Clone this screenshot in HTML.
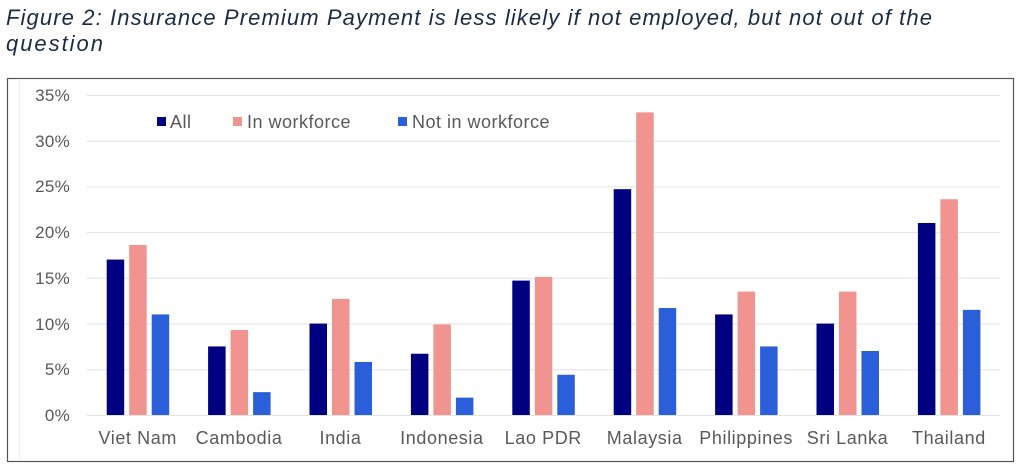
<!DOCTYPE html>
<html><head><meta charset="utf-8"><style>
body{margin:0;background:#fff;width:1024px;height:469px;overflow:hidden}
svg{display:block}
</style></head><body>
<svg width="1024" height="469" xmlns="http://www.w3.org/2000/svg" font-family="Liberation Sans, sans-serif">
<text x="6" y="25" font-size="22" font-style="italic" fill="#1c2b45" textLength="926" lengthAdjust="spacing">Figure 2: Insurance Premium Payment is less likely if not employed, but not out of the</text>
<text x="6" y="51" font-size="22" font-style="italic" fill="#1c2b45" textLength="97" lengthAdjust="spacing">question</text>
<rect x="7.5" y="78.5" width="1006" height="383" fill="#fff" stroke="#555" stroke-width="1.2"/>
<line x1="19.5" y1="80" x2="19.5" y2="460" stroke="#eee"/>
<g stroke="#e3e3e3" stroke-width="1">
<line x1="87" y1="95.5" x2="1000" y2="95.5"/>
<line x1="87" y1="141.2" x2="1000" y2="141.2"/>
<line x1="87" y1="186.9" x2="1000" y2="186.9"/>
<line x1="87" y1="232.6" x2="1000" y2="232.6"/>
<line x1="87" y1="278.3" x2="1000" y2="278.3"/>
<line x1="87" y1="324" x2="1000" y2="324"/>
<line x1="87" y1="369.7" x2="1000" y2="369.7"/>
<line x1="87" y1="415.5" x2="1000" y2="415.5"/>
</g>
<g font-size="17" fill="#595959" text-anchor="end" letter-spacing="0.3">
<text x="70" y="101">35%</text><text x="70" y="147">30%</text><text x="70" y="192">25%</text>
<text x="70" y="238">20%</text><text x="70" y="284">15%</text><text x="70" y="330">10%</text>
<text x="70" y="375">5%</text><text x="70" y="421">0%</text>
</g>
<g font-size="18" fill="#595959" letter-spacing="0.5">
<rect x="157" y="117" width="9" height="9" fill="#000080"/><text x="170" y="128">All</text>
<rect x="233" y="117" width="9" height="9" fill="#f1948f"/><text x="247" y="128">In workforce</text>
<rect x="398" y="117" width="9" height="9" fill="#2b5fd9"/><text x="412" y="128">Not in workforce</text>
</g>
<g id="bars"></g>
<g id="labels" font-size="18" fill="#595959" text-anchor="middle" letter-spacing="0.6"></g>
<script>
var d=[["Viet Nam",17,18.6,11],["Cambodia",7.5,9.3,2.5],["India",10,12.7,5.8],["Indonesia",6.7,9.9,1.9],["Lao PDR",14.7,15.1,4.4],["Malaysia",24.7,33.1,11.7],["Philippines",11,13.5,7.5],["Sri Lanka",10,13.5,7],["Thailand",21,23.6,11.5]];
var c=["#000080","#f1948f","#2b5fd9"],ns="http://www.w3.org/2000/svg",b=document.getElementById("bars"),l=document.getElementById("labels");
d.forEach(function(r,i){var cx=87+101.4*(i+0.5);for(var k=0;k<3;k++){var h=r[k+1]*320/35,e=document.createElementNS(ns,"rect");e.setAttribute("x",cx-31+k*22.5);e.setAttribute("y",415-h);e.setAttribute("width",17.5);e.setAttribute("height",h);e.setAttribute("fill",c[k]);b.appendChild(e);}
var t=document.createElementNS(ns,"text");t.setAttribute("x",cx);t.setAttribute("y",444);t.textContent=r[0];l.appendChild(t);});
</script>
</svg>
</body></html>
